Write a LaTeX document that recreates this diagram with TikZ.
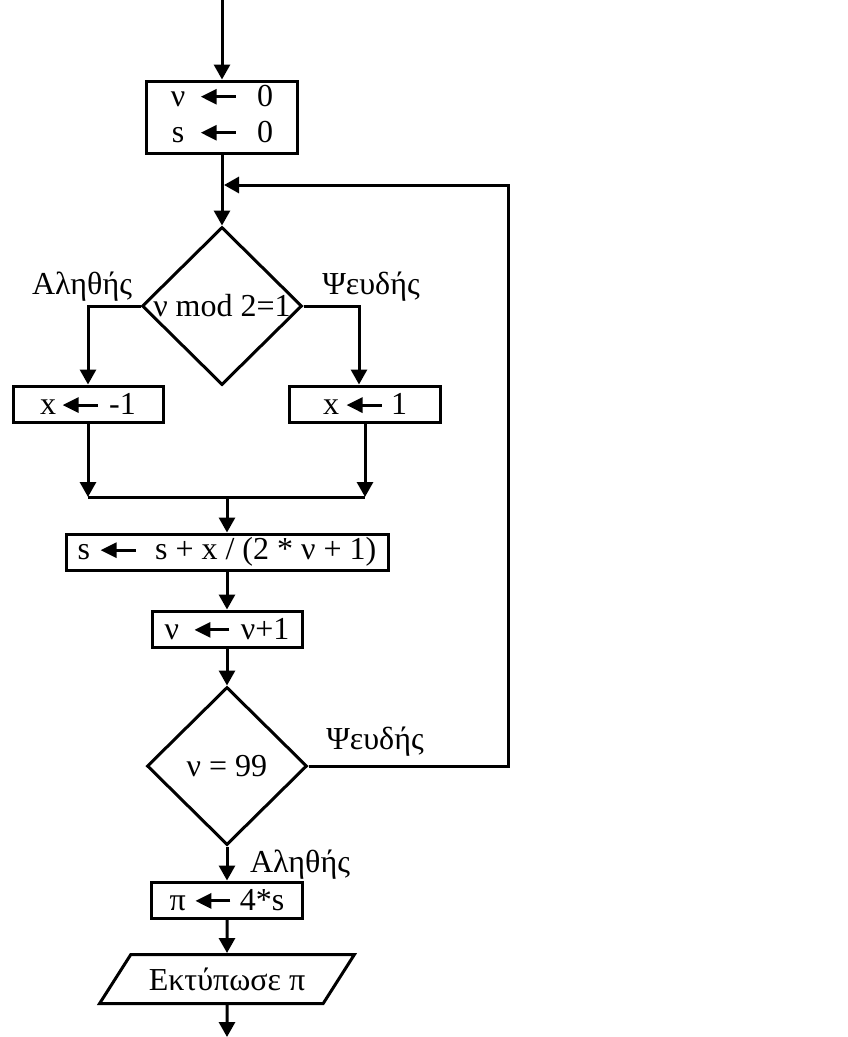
\documentclass[tikz,border=0pt]{standalone}
\usepackage{fontspec}
\setmainfont{Liberation Serif}
\usetikzlibrary{shapes.geometric,arrows.meta}

% bold assignment arrow used inside the boxes
\newcommand{\getsarrow}{\tikz[baseline=0pt]\draw[line width=3pt,-{Triangle[length=16pt,width=15pt]}] (35pt,9.5pt) -- (0pt,9.5pt);}

\tikzset{
  flow/.style={line width=3pt,-{Triangle[length=15pt,width=16pt]}},
  link/.style={line width=3pt},
  procbox/.style={draw,line width=3pt,rectangle,minimum height=36pt,inner sep=0pt},
  decision/.style={draw,line width=3pt,diamond,minimum width=160pt,minimum height=158pt,inner sep=0pt},
  iobox/.style={draw,line width=3pt,trapezium,trapezium left angle=42,trapezium right angle=138,
    trapezium stretches=true,minimum width=255pt,minimum height=49pt,inner sep=0pt},
  lbl/.style={inner sep=0pt}
}

\begin{document}
\begin{tikzpicture}[x=1pt,y=-1pt,font=\fontsize{32}{36}\selectfont]
\useasboundingbox (0,0) rectangle (848,1037);

% boxes
\node[procbox,minimum width=151pt,minimum height=72pt] (init) at (222,117)
  {\begin{tabular}{@{}c@{\hspace{14pt}}c@{\hspace{20pt}}c@{}}ν & \getsarrow & 0\\ s & \getsarrow & 0\end{tabular}};
\node[decision] (d1) at (222,306) {\makebox[0pt]{ν mod 2=1}};
\node[procbox,minimum width=150pt] (xneg) at (88,404) {x\hspace{5pt}\getsarrow\hspace{10pt}-1};
\node[procbox,minimum width=151pt] (xpos) at (365,404) {x\hspace{6pt}\getsarrow\hspace{8pt}1};
\node[procbox,minimum width=322pt] (upd) at (227,552) {s\hspace{9pt}\getsarrow\hspace{18pt}s + x / (2 * ν + 1)};
\node[procbox,minimum width=150pt] (inc) at (227,629) {ν\hspace{14pt}\getsarrow\hspace{10pt}ν+1};
\node[decision] (d2) at (227,766) {\makebox[0pt]{ν = 99}};
\node[procbox,minimum width=151pt] (pi) at (227,900) {π\hspace{8pt}\getsarrow\hspace{8pt}4*s};
\node[iobox] (out) at (227,979) {Εκτύπωσε π};

% labels
\node[lbl] (yes1) at (82,287) {Αληθής};
\node[lbl] (no1) at (371,287) {Ψευδής};
\node[lbl] (no2) at (375,742) {Ψευδής};
\node[lbl] (yes2) at (300,865) {Αληθής};

% connectors
\coordinate (top) at (222,0);
\coordinate (back) at (508,185);
\coordinate (merge) at (224,185);
\coordinate (joinM) at (227,497);
\coordinate (bottom) at (227,1037);

\draw[flow] (top) -- (init.north);
\draw[flow] (init.south) -- (d1.north);
\draw[flow] (d1.west) -| (xneg.north);
\draw[flow] (d1.east) -| ([xshift=-6pt]xpos.north);
\draw[flow] (xneg.south) -- (xneg.south |- joinM);
\draw[flow] (xpos.south) -- (xpos.south |- joinM);
\draw[link] (xneg.south |- joinM) -- (xpos.south |- joinM);
\draw[flow] (joinM) -- (upd.north);
\draw[flow] (upd.south) -- (inc.north);
\draw[flow] (inc.south) -- (d2.north);
\draw[flow] (d2.east) -| (back) -- (merge);
\draw[flow] (d2.south) -- (pi.north);
\draw[flow] (pi.south) -- (out.north);
\draw[flow] (out.south) -- (bottom);
\end{tikzpicture}
\end{document}
